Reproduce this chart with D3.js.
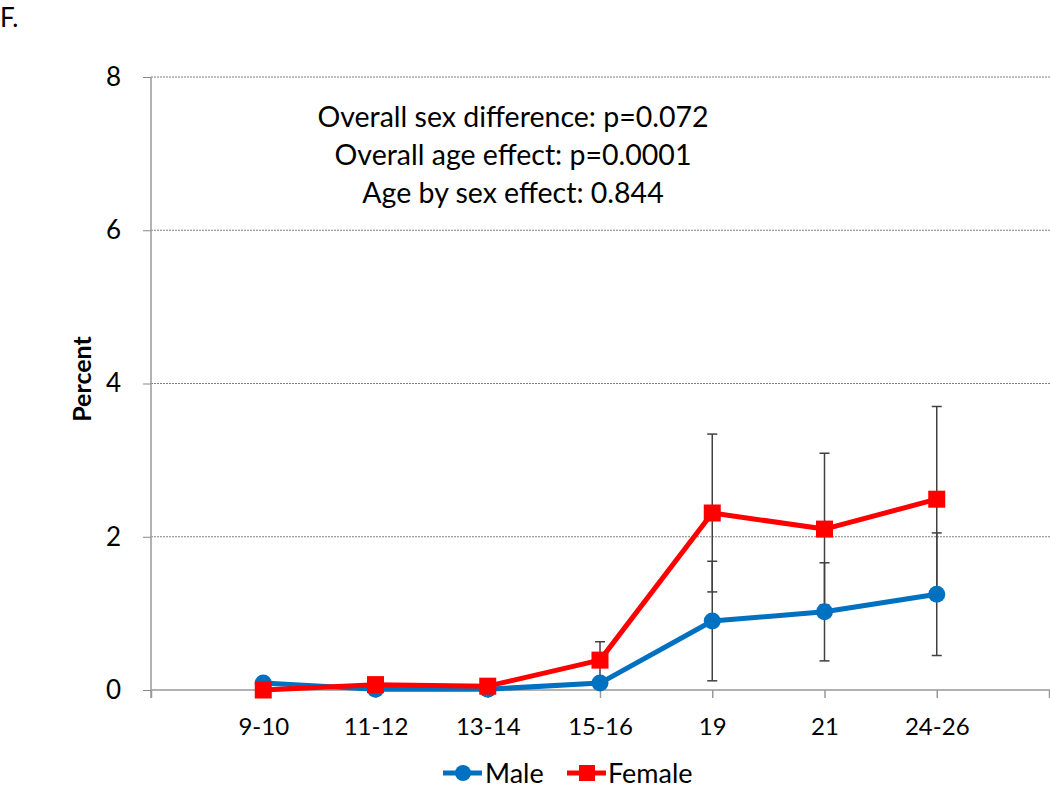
<!DOCTYPE html>
<html><head><meta charset="utf-8">
<script src="https://cdn.jsdelivr.net/npm/d3@7"></script>
<style>body{margin:0;background:#fff}svg{display:block}text{font-family:Lato,"Open Sans",sans-serif}</style>
</head><body><svg id="c" width="1050" height="789"></svg>
<script>
const categories = ["9-10","11-12","13-14","15-16","19","21","24-26"];
const maleValues = [0.09,0.01,0.01,0.09,0.90,1.02,1.25];
const maleErr = [0,0,0,0.03,0.78,0.64,0.80];
const femaleValues = [0.0,0.07,0.05,0.39,2.31,2.10,2.49];
const femaleErr = [0,0,0,0.24,1.03,0.99,1.21];
const yTicks = [0,2,4,6,8];
const annotations = ["Overall sex difference: p=0.072","Overall age effect: p=0.0001","Age by sex effect: 0.844"];

const svg = d3.select("#c");
const L=151, R=1049, T=77, B=690;
const slots = ["", ...categories, " "];
const x = d3.scalePoint().domain(slots).range([L,R]);
const y = d3.scaleLinear().domain([0,8]).range([B,T]);

// gridlines
svg.append("g").selectAll("line").data(yTicks.filter(d=>d>0)).join("line")
  .attr("x1",L).attr("x2",R+1).attr("y1",d=>y(d)).attr("y2",d=>y(d))
  .attr("stroke","#808080").attr("stroke-width",1).attr("stroke-dasharray","2,1");

// y axis
const ya = svg.append("g").attr("transform",`translate(${L},0)`)
  .call(d3.axisLeft(y).tickValues(yTicks).tickSize(8).tickPadding(22).tickFormat(d3.format("d")));
ya.select(".domain").remove();
ya.selectAll(".tick line").attr("stroke","#888");
ya.selectAll("text").attr("font-size",26).attr("fill","#000");
svg.append("line").attr("x1",L).attr("x2",L).attr("y1",T).attr("y2",B+8).attr("stroke","#999").attr("stroke-width",1.5);

// x axis
const xa = svg.append("g").attr("transform",`translate(0,${B})`)
  .call(d3.axisBottom(x).tickSize(8).tickPadding(20));
xa.select(".domain").remove();
xa.selectAll(".tick line").attr("stroke","#999").attr("stroke-width",1.5);
xa.selectAll("text").attr("font-size",24).attr("fill","#000");
svg.append("line").attr("x1",L).attr("x2",R+1).attr("y1",B).attr("y2",B).attr("stroke","#999").attr("stroke-width",1.5);

// y label
svg.append("text").attr("transform",`translate(91,379) rotate(-90)`).attr("text-anchor","middle")
  .attr("font-size",25).attr("font-weight","bold").text("Percent");
svg.append("text").attr("x",0).attr("y",27).attr("font-size",26).text("F.");

// annotations
svg.append("g").selectAll("text").data(annotations).join("text")
  .attr("x",513).attr("y",(d,i)=>127+i*38).attr("text-anchor","middle").attr("font-size",28.5).text(d=>d);

const series = [
  {name:"Male", vals:maleValues, err:maleErr, color:"#0070C0", shape:"circle"},
  {name:"Female", vals:femaleValues, err:femaleErr, color:"#FF0000", shape:"square"}
];

// error bars
series.forEach(s=>{
  const g = svg.append("g").attr("stroke","#404040").attr("stroke-width",1.5);
  categories.forEach((c,i)=>{
    if(!s.err[i]) return;
    const cx=x(c), y1=y(s.vals[i]+s.err[i]), y2=y(Math.max(0,s.vals[i]-s.err[i]));
    g.append("line").attr("x1",cx).attr("x2",cx).attr("y1",y1).attr("y2",y2);
    g.append("line").attr("x1",cx-5).attr("x2",cx+5).attr("y1",y1).attr("y2",y1);
    g.append("line").attr("x1",cx-5).attr("x2",cx+5).attr("y1",y2).attr("y2",y2);
  });
});

const line = d3.line().x((d,i)=>x(categories[i])).y(d=>y(d));
series.forEach(s=>{
  svg.append("path").datum(s.vals).attr("d",line).attr("fill","none")
    .attr("stroke",s.color).attr("stroke-width",5).attr("stroke-linejoin","round");
  const g = svg.append("g").attr("fill",s.color);
  if(s.shape==="circle"){
    g.selectAll("circle").data(s.vals).join("circle").attr("cx",(d,i)=>x(categories[i])).attr("cy",d=>y(d)).attr("r",8.5);
  } else {
    g.selectAll("rect").data(s.vals).join("rect").attr("x",(d,i)=>x(categories[i])-8.5).attr("y",d=>y(d)-8.5).attr("width",17).attr("height",17);
  }
});

// legend
const leg = svg.append("g").attr("transform","translate(0,773)");
const items=[{s:series[0],x0:443,tx:485},{s:series[1],x0:567,tx:608}];
items.forEach(it=>{
  leg.append("line").attr("x1",it.x0).attr("x2",it.x0+39).attr("y1",0).attr("y2",0).attr("stroke",it.s.color).attr("stroke-width",5);
  if(it.s.shape==="circle") leg.append("circle").attr("cx",it.x0+20).attr("cy",0).attr("r",8).attr("fill",it.s.color);
  else leg.append("rect").attr("x",it.x0+12).attr("y",-8).attr("width",16).attr("height",16).attr("fill",it.s.color);
  leg.append("text").attr("x",it.tx).attr("y",10).attr("font-size",27).text(it.s.name);
});
</script></body></html>
